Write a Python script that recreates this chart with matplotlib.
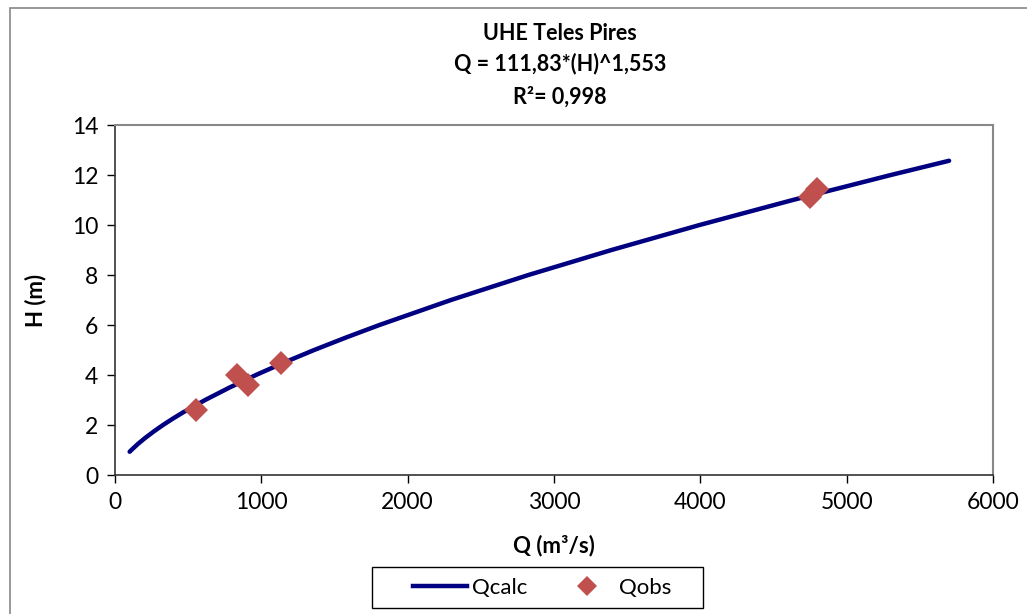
import matplotlib
matplotlib.use("Agg")
import matplotlib.pyplot as plt
from matplotlib.patches import Rectangle
from matplotlib.lines import Line2D

plt.rcParams['font.family'] = ['Lato', 'DejaVu Sans']

# Rating curve (Qcalc): H (m) and Q (m3/s)
H_calc = [0.93, 1.0, 1.25, 1.5, 1.75, 2.0, 2.25, 2.5, 3.0, 3.5, 4.0, 4.5, 5.0, 5.5, 6.0, 7.0, 8.0, 9.0, 10.0, 11.0, 12.0, 12.57]
Q_calc = [100, 112, 158, 210, 267, 328, 394, 464, 616, 783, 963, 1156, 1361, 1579, 1807, 2296, 2825, 3393, 3995, 4632, 5302, 5700]

# Observed points (Qobs)
Q_obs = [554, 832, 911, 1132, 4750, 4796]
H_obs = [2.6, 4.0, 3.6, 4.47, 11.13, 11.45]

x_ticks = [0, 1000, 2000, 3000, 4000, 5000, 6000]
y_ticks = [0, 2, 4, 6, 8, 10, 12, 14]

W, Hpx = 1027, 614
fig = plt.figure(figsize=(W / 100, Hpx / 100), dpi=100)

# outer chart border (cut at right/bottom)
fig.patches.append(Rectangle((10 / W, -0.1), 1.2, (Hpx - 8) / Hpx + 0.1, transform=fig.transFigure,
                             fill=False, edgecolor='#888888', linewidth=1.2))

ax = fig.add_axes([115 / W, 1 - 475 / Hpx, (993 - 115) / W, (475 - 125) / Hpx])

ax.plot(Q_calc, H_calc, color='#000080', linewidth=3.2, solid_capstyle='round', zorder=2)
ax.plot(Q_obs, H_obs, linestyle='none', marker='D', markersize=12, color='#C0504D',
        markeredgewidth=0, zorder=3)

ax.set_xlim(0, 6000)
ax.set_ylim(0, 14)
ax.set_xticks(x_ticks)
ax.set_yticks(y_ticks)
ax.tick_params(axis='both', direction='out', length=6, width=1, labelsize=16.5, colors='black', pad=6)
for s in ['top', 'right']:
    ax.spines[s].set_color('#888888')
    ax.spines[s].set_linewidth(1.5)
for s in ['left', 'bottom']:
    ax.spines[s].set_color('#333333')
    ax.spines[s].set_linewidth(1.2)

ax.set_xlabel('Q (m³/s)', fontsize=16, fontweight='bold', labelpad=16)
ax.set_ylabel('H (m)', fontsize=16, fontweight='bold', labelpad=18)

fig.text(560 / W, 1 - 33 / Hpx, 'UHE Teles Pires', ha='center', va='center', fontsize=15.5, fontweight='bold')
fig.text(560 / W, 1 - 64 / Hpx, 'Q = 111,83*(H)^1,553', ha='center', va='center', fontsize=15.5, fontweight='bold')
fig.text(560 / W, 1 - 97 / Hpx, 'R²= 0,998', ha='center', va='center', fontsize=15.5, fontweight='bold')

# legend frame
fig.patches.append(Rectangle((372 / W, 1 - 608 / Hpx), (703 - 372) / W, (608 - 567) / Hpx,
                             transform=fig.transFigure, fill=True, facecolor='white',
                             edgecolor='black', linewidth=1.0, zorder=1))
leg = fig.legend([Line2D([], [], color='#000080', linewidth=3.2),
                  Line2D([], [], linestyle='none', marker='D', markersize=10, color='#C0504D', markeredgewidth=0)],
                 ['Qcalc', 'Qobs'], ncol=2, loc='center', bbox_to_anchor=(542 / W, 1 - 588 / Hpx),
                 fontsize=16, frameon=False, handlelength=2.43,
                 handletextpad=0.22, columnspacing=1.45, borderpad=0.0)
leg.set_zorder(5)

fig.savefig('out.png', dpi=100)
